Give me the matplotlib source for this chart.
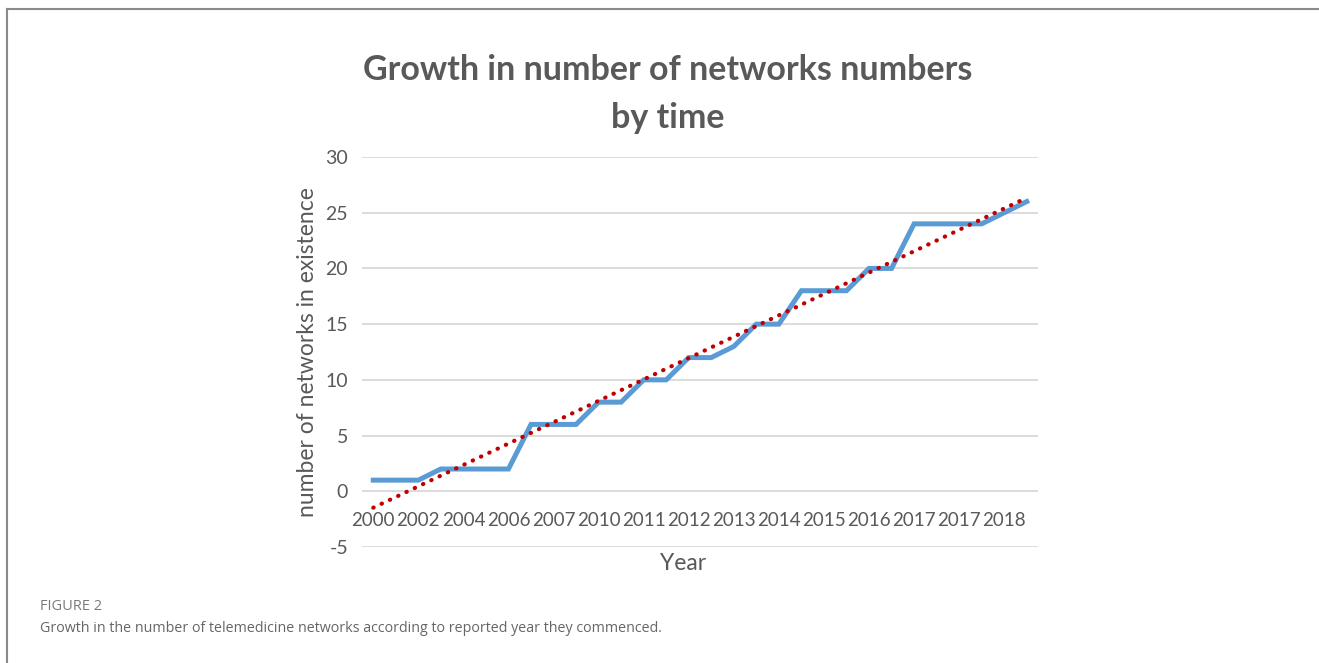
import matplotlib.pyplot as plt
import numpy as np
from matplotlib.lines import Line2D

# networks in existence, one value per reported start (Excel category axis)
networks = [1, 1, 1, 2, 2, 2, 2, 6, 6, 6, 8, 8, 10, 10, 12, 12, 13,
            15, 15, 18, 18, 18, 20, 20, 24, 24, 24, 24, 25, 26]
# Excel only shows every second category label
year_labels = ['2000', '2002', '2004', '2006', '2007', '2010', '2011', '2012',
               '2013', '2014', '2015', '2016', '2017', '2017', '2018']
y_ticks = [-5, 0, 5, 10, 15, 20, 25, 30]

W, H = 1319, 663
fig = plt.figure(figsize=(W / 100, H / 100), dpi=100)
plt.rcParams['font.family'] = ['Lato', 'DejaVu Sans']
plt.rcParams['axes.unicode_minus'] = False

grey = '#595959'
x = np.arange(len(networks))

# plot area: 362..1038 px wide, y=30 at 157 px, y=-5 at 547 px
ax = fig.add_axes([362 / W, 1 - 547 / H, 676 / W, 390 / H])
ax.set_xlim(-0.5, len(networks) - 0.5)
ax.set_ylim(-5, 30)

ax.plot(x, networks, color='#5B9BD5', lw=3.6, solid_joinstyle='miter', zorder=3)

slope, intercept = np.polyfit(x, networks, 1)
ax.plot(x, slope * x + intercept, color='#C00000', lw=3,
        linestyle=(0, (0.1, 2.1)), dash_capstyle='round', zorder=4)

ax.set_yticks(y_ticks)
ax.yaxis.grid(True, color='#D9D9D9', lw=1.3)
ax.set_axisbelow(True)
ax.set_xticks(x[::2])
ax.set_xticklabels(year_labels)
ax.spines['bottom'].set_position(('data', 0))
for s in ax.spines.values():
    s.set_visible(False)
ax.tick_params(axis='x', length=0, pad=15, labelsize=13.5, labelcolor=grey)
ax.tick_params(axis='y', length=0, pad=10, labelsize=14, labelcolor=grey)

ax.set_ylabel('number of networks in existence', fontsize=16.5, color=grey, labelpad=5)

fig.text(683 / W, 1 - 563 / H, 'Year', ha='center', va='center', fontsize=16.5, color=grey)
fig.text(668 / W, 1 - 70 / H, 'Growth in number of networks numbers',
         ha='center', va='center', fontsize=24.5, fontweight='bold', color=grey)
fig.text(668 / W, 1 - 118 / H, 'by time',
         ha='center', va='center', fontsize=24.5, fontweight='bold', color=grey)

# caption under the chart
fig.text(40 / W, 1 - 607 / H, 'FIGURE 2', ha='left', va='center',
         fontsize=10.5, color='#7a7a7a', family='Open Sans')
fig.text(40 / W, 1 - 628 / H,
         'Growth in the number of telemedicine networks according to reported year they commenced.',
         ha='left', va='center', fontsize=10.3, color='#666666', family='Open Sans')

# page frame (top and left edges)
fig.add_artist(Line2D([7 / W, 1], [1 - 9 / H, 1 - 9 / H], color='#8a8a8a', lw=1.5))
fig.add_artist(Line2D([7 / W, 7 / W], [0, 1 - 9 / H], color='#8a8a8a', lw=1.5))

fig.savefig('out.png', dpi=100)
